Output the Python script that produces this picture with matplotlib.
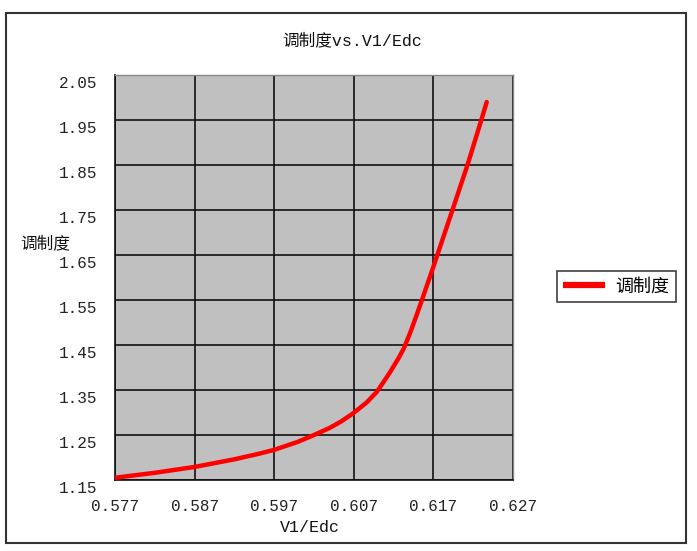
import matplotlib
matplotlib.use("Agg")
import matplotlib.pyplot as plt
import matplotlib.transforms as mtransforms
from matplotlib.patches import Rectangle

x_vals = [0.577, 0.582, 0.587, 0.592, 0.595, 0.597, 0.600, 0.602, 0.604,
          0.6054, 0.6069, 0.6086, 0.6099, 0.6115, 0.6126, 0.6133, 0.6141,
          0.6148, 0.6155, 0.6170, 0.6193, 0.6213, 0.6229, 0.6237]
y_vals = [1.155, 1.166, 1.179, 1.196, 1.208, 1.217, 1.235, 1.250, 1.266,
          1.280, 1.298, 1.322, 1.346, 1.388, 1.420, 1.443, 1.478,
          1.512, 1.547, 1.624, 1.745, 1.851, 1.943, 1.990]
x_ticks = [0.577, 0.587, 0.597, 0.607, 0.617, 0.627]
y_ticks = [1.15, 1.25, 1.35, 1.45, 1.55, 1.65, 1.75, 1.85, 1.95, 2.05]
series_name = "调制度"
title_text = "调制度vs.V1/Edc"
x_label = "V1/Edc"
y_label = "调制度"

W, H = 697, 551
fam = ['Liberation Mono', 'Noto Sans CJK SC']
cjk = ['Noto Sans CJK SC', 'DejaVu Sans']

fig = plt.figure(figsize=(W / 100, H / 100), dpi=100)
fig.patch.set_facecolor('white')

# outer border
fig.add_artist(Rectangle((6 / W, 1 - 543 / H), (686 - 6) / W, (543 - 13) / H,
                         transform=fig.transFigure, fill=False,
                         edgecolor='#333333', linewidth=1.5))

ax = fig.add_axes([115 / W, 1 - 480 / H, (513 - 115) / W, (480 - 75) / H])
ax.set_facecolor('#C0C0C0')
line, = ax.plot(x_vals, y_vals, color='#FF0000', linewidth=3.2,
                solid_capstyle='round', solid_joinstyle='round',
                label=series_name, zorder=3)
ax.set_xlim(x_ticks[0], x_ticks[-1])
ax.set_ylim(y_ticks[0], y_ticks[-1])
ax.set_xticks(x_ticks)
ax.set_yticks(y_ticks)
ax.set_xticklabels([f"{v:.3f}" for v in x_ticks], family=fam, fontsize=11.5)
ax.set_yticklabels([f"{v:.2f}" for v in y_ticks], family=fam, fontsize=11.5)
ax.tick_params(axis='both', length=0, colors='#222222')
ax.tick_params(axis='x', pad=14)
ax.tick_params(axis='y', pad=13)
off = mtransforms.ScaledTranslation(0, -7 / 100, fig.dpi_scale_trans)
for lab in ax.get_yticklabels():
    lab.set_transform(lab.get_transform() + off)
ax.grid(True, color='#111111', linewidth=1.2)
ax.set_axisbelow(True)
for s in ['left', 'bottom']:
    ax.spines[s].set_color('#111111')
    ax.spines[s].set_linewidth(1.2)
for s in ['top', 'right']:
    ax.spines[s].set_color('#888888')
    ax.spines[s].set_linewidth(1.0)

fig.text(352 / W, 1 - 40 / H, title_text, family=fam, fontsize=12,
         ha='center', va='center', color='#111111')
fig.text(310 / W, 1 - 527 / H, x_label, family=fam, fontsize=12,
         ha='center', va='center', color='#111111')
fig.text(45 / W, 1 - 244 / H, y_label, family=cjk, fontsize=12,
         ha='center', va='center', color='#111111')

leg = fig.legend(handles=[line], loc='center left',
                 bbox_to_anchor=(557 / W, 1 - 286.5 / H),
                 prop={'family': cjk, 'size': 13}, frameon=True,
                 fancybox=False, edgecolor='#111111', handlelength=2.3,
                 borderpad=0.35, handletextpad=0.6, borderaxespad=0)
leg.get_frame().set_linewidth(1.2)
leg.get_lines()[0].set_linewidth(4.5)
leg.get_lines()[0].set_solid_capstyle('butt')

fig.savefig('out.png', dpi=100)
